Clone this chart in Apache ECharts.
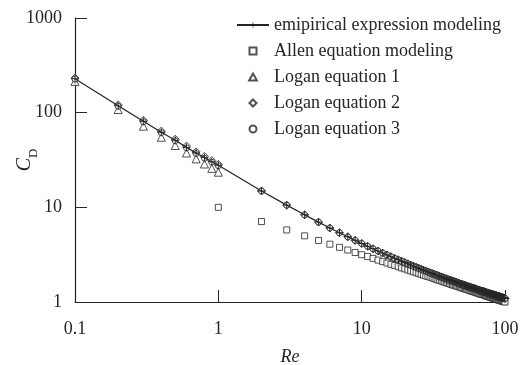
<!DOCTYPE html>
<html>
<head>
<meta charset="utf-8">
<script src="https://cdn.jsdelivr.net/npm/echarts@6/dist/echarts.min.js"></script>
<style>
  html, body { margin: 0; padding: 0; background: #fff; }
  #main { width: 520px; height: 365px; }
</style>
</head>
<body>
<div id="main"></div>
<script>
// Re 取值
var reLow = [0.1, 0.2, 0.3, 0.4, 0.5, 0.6, 0.7, 0.8, 0.9];
var reInt = [1, 2, 3, 4, 5, 6, 7, 8, 9, 10,
  11, 12, 13, 14, 15, 16, 17, 18, 19, 20,
  21, 22, 23, 24, 25, 26, 27, 28, 29, 30,
  31, 32, 33, 34, 35, 36, 37, 38, 39, 40,
  41, 42, 43, 44, 45, 46, 47, 48, 49, 50,
  51, 52, 53, 54, 55, 56, 57, 58, 59, 60,
  61, 62, 63, 64, 65, 66, 67, 68, 69, 70,
  71, 72, 73, 74, 75, 76, 77, 78, 79, 80,
  81, 82, 83, 84, 85, 86, 87, 88, 89, 90,
  91, 92, 93, 94, 95, 96, 97, 98, 99, 100];

// 经验公式 (Re 0.1 - 0.9)
var cdEmpLow = [228, 118, 81, 62, 51, 43, 37.5, 33.5, 30.3];
// 经验公式 (Re 1 - 100)
var cdEmpInt = [27.8, 14.9, 10.55, 8.33, 6.98, 6.05, 5.39, 4.88, 4.48, 4.15,
  3.88, 3.65, 3.46, 3.29, 3.14, 3.01, 2.89, 2.79, 2.70, 2.61,
  2.53, 2.46, 2.39, 2.33, 2.27, 2.22, 2.17, 2.13, 2.08, 2.04,
  2.00, 1.97, 1.93, 1.90, 1.87, 1.84, 1.81, 1.78, 1.76, 1.73,
  1.71, 1.69, 1.67, 1.65, 1.63, 1.61, 1.59, 1.57, 1.55, 1.54,
  1.52, 1.51, 1.49, 1.48, 1.46, 1.45, 1.44, 1.42, 1.41, 1.40,
  1.39, 1.38, 1.37, 1.35, 1.34, 1.33, 1.32, 1.31, 1.30, 1.30,
  1.29, 1.28, 1.27, 1.26, 1.25, 1.24, 1.24, 1.23, 1.22, 1.21,
  1.21, 1.20, 1.19, 1.19, 1.18, 1.17, 1.17, 1.16, 1.15, 1.15,
  1.14, 1.14, 1.13, 1.12, 1.12, 1.11, 1.11, 1.10, 1.10, 1.09];

// Allen 公式 (Re 1 - 100)
var cdAllen = [10.00, 7.07, 5.77, 5.00, 4.47, 4.08, 3.78, 3.54, 3.33, 3.16,
  3.02, 2.89, 2.77, 2.67, 2.58, 2.50, 2.43, 2.36, 2.29, 2.24,
  2.18, 2.13, 2.09, 2.04, 2.00, 1.96, 1.92, 1.89, 1.86, 1.83,
  1.80, 1.77, 1.74, 1.71, 1.69, 1.67, 1.64, 1.62, 1.60, 1.58,
  1.56, 1.54, 1.52, 1.51, 1.49, 1.47, 1.46, 1.44, 1.43, 1.41,
  1.40, 1.39, 1.37, 1.36, 1.35, 1.34, 1.32, 1.31, 1.30, 1.29,
  1.28, 1.27, 1.26, 1.25, 1.24, 1.23, 1.22, 1.21, 1.20, 1.20,
  1.19, 1.18, 1.17, 1.16, 1.15, 1.15, 1.14, 1.13, 1.13, 1.12,
  1.11, 1.10, 1.10, 1.09, 1.08, 1.08, 1.07, 1.07, 1.06, 1.05,
  1.05, 1.04, 1.04, 1.03, 1.03, 1.02, 1.02, 1.01, 1.01, 1.00];

// Logan 公式 (Re 0.1 - 1)
var cdLogan1 = [214, 108, 72, 55, 45, 37.5, 32.5, 28.7, 25.8, 23.5];
var cdLogan2Low = [232, 121, 83, 64, 52.5, 44.5, 38.5, 34.5, 31.2, 28.5];
var cdLogan3Low = [226, 117, 80, 61.5, 50.5, 42.5, 37, 33, 30, 27.5];
// Re 2 - 100 与经验公式重合
var cdLoganHigh = cdEmpInt.slice(1);

var names = ['emipirical expression modeling', 'Allen equation modeling',
  'Logan equation 1', 'Logan equation 2', 'Logan equation 3'];

function pairs(xs, ys) {
  var out = [];
  for (var i = 0; i < ys.length; i++) out.push([xs[i], ys[i]]);
  return out;
}

var reLow10 = reLow.concat([1]);
var reHigh = reInt.slice(1);
var ink = '#252525';
var font = "'Liberation Serif', 'Times New Roman', serif";
var plus = 'path://M4.4,0h1.2v4.4h4.4v1.2h-4.4v4.4h-1.2v-4.4h-4.4v-1.2h4.4z';
var sq = 'path://M0,0h10v10h-10z';
var tri = 'path://M5,0L10,9L0,9z';
var dia = 'path://M5,0L10,5L5,10L0,5z';

var hollow = { color: '#fff', borderColor: ink, borderWidth: 1 };

var myChart = echarts.init(document.getElementById('main'));

var option = {
  backgroundColor: '#fff',
  animation: false,
  textStyle: { fontFamily: font, color: ink },
  grid: { left: 75, right: 15, top: 18, bottom: 63, containLabel: false, outerBoundsMode: 'none' },
  legend: {
    orient: 'vertical',
    left: 231,
    top: 11,
    itemGap: 8,
    itemWidth: 32,
    itemHeight: 7,
    data: [
      { name: names[0] },
      { name: names[1], icon: sq },
      { name: names[2], icon: tri },
      { name: names[3], icon: dia },
      { name: names[4], icon: 'circle' }
    ],
    textStyle: { fontFamily: font, fontSize: 18, color: ink }
  },
  xAxis: {
    type: 'log',
    logBase: 10,
    min: 0.1,
    max: 100,
    name: '{i|Re}',
    nameLocation: 'middle',
    nameGap: 46,
    nameMoveOverlap: false,
    nameTextStyle: { rich: { i: { fontFamily: font, fontSize: 18, fontStyle: 'italic', color: ink } } },
    axisLine: { lineStyle: { color: ink, width: 1.2 } },
    axisTick: { inside: true, length: 12, lineStyle: { color: ink } },
    axisLabel: { fontFamily: font, fontSize: 18, color: ink, margin: 18, formatter: function (v) { return String(v); } },
    splitLine: { show: false },
    minorTick: { show: false }
  },
  yAxis: {
    type: 'log',
    logBase: 10,
    min: 1,
    max: 1000,
    name: '{i|C}{s|D}',
    nameLocation: 'middle',
    nameGap: 40,
    nameMoveOverlap: false,
    nameTextStyle: {
      rich: {
        i: { fontFamily: font, fontSize: 20, fontStyle: 'italic', color: ink, lineHeight: 22, verticalAlign: 'bottom' },
        s: { fontFamily: font, fontSize: 13, color: ink, lineHeight: 22, verticalAlign: 'bottom', padding: [0, 0, -5, 0] }
      }
    },
    axisLine: { lineStyle: { color: ink, width: 1.2 } },
    axisTick: { inside: true, length: 12, lineStyle: { color: ink } },
    axisLabel: { fontFamily: font, fontSize: 18, color: ink, margin: 13, formatter: function (v) { return String(v); } },
    splitLine: { show: false },
    minorTick: { show: false }
  },
  series: [
    {
      name: names[1],
      type: 'scatter',
      symbol: 'rect',
      symbolSize: 6,
      itemStyle: hollow,
      data: pairs(reInt, cdAllen)
    },
    {
      name: names[2],
      type: 'scatter',
      symbol: 'triangle',
      symbolSize: 8,
      itemStyle: hollow,
      data: pairs(reLow10, cdLogan1)
    },
    {
      name: names[3],
      type: 'scatter',
      symbol: 'diamond',
      symbolSize: 8,
      itemStyle: hollow,
      data: pairs(reLow10, cdLogan2Low).concat(pairs(reHigh, cdLoganHigh))
    },
    {
      name: names[4],
      type: 'scatter',
      symbol: 'circle',
      symbolSize: 6,
      itemStyle: hollow,
      data: pairs(reLow10, cdLogan3Low).concat(pairs(reHigh, cdLoganHigh))
    },
    {
      name: names[0],
      type: 'line',
      z: 3,
      symbol: plus,
      symbolSize: 8,
      showSymbol: true,
      showAllSymbol: true,
      itemStyle: { color: ink },
      lineStyle: { color: ink, width: 1.2 },
      data: pairs(reLow, cdEmpLow).concat(pairs(reInt, cdEmpInt))
    }
  ]
};

myChart.setOption(option);
</script>
</body>
</html>
